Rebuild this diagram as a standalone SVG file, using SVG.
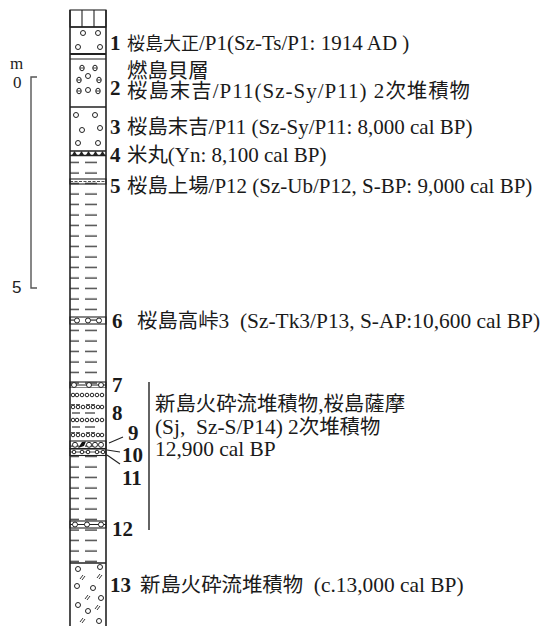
<svg xmlns="http://www.w3.org/2000/svg" width="551" height="626" viewBox="0 0 551 626">
  <style>
    .lbl { font-family: "Liberation Serif", "Noto Sans CJK JP", serif; font-size: 21px; fill: #1a1a1a; white-space: pre; }
    .lbl2 { font-family: "Liberation Serif", "Noto Sans CJK JP", serif; font-size: 21.4px; fill: #1a1a1a; white-space: pre; }
    .jp { font-size: 20.4px; }
    .jps { font-size: 18px; }
    .num { font-family: "Liberation Serif", serif; font-size: 21px; font-weight: bold; fill: #1a1a1a; }
    .scl { font-family: "Liberation Serif", serif; font-size: 17px; fill: #222; }
    .edge { stroke: #222; stroke-width: 1.6; fill: none; }
    .thin { stroke: #222; stroke-width: 1.1; fill: none; }
    .pb { stroke: #222; stroke-width: 1; fill: #fff; }
    .bar { stroke: #555; stroke-width: 1.4; fill: none; }
  </style>
  <defs>
    <!-- mud / silt dashes -->
    <pattern id="mud" patternUnits="userSpaceOnUse" x="70" y="0" width="36" height="10.5">
      <line x1="0" y1="5" x2="9" y2="5" stroke="#222" stroke-width="1.2"/>
      <line x1="15" y1="5" x2="27" y2="5" stroke="#222" stroke-width="1.2"/>
    </pattern>
    <circle id="c" r="2.5" class="pb"/>
    <circle id="s" r="1.8" class="pb"/>
    <g id="theta"><ellipse rx="2.2" ry="2.8" class="pb"/><line x1="-2.2" y1="0" x2="2.2" y2="0" stroke="#222" stroke-width="0.8"/></g>
    <g id="sigma"><circle r="1.8" class="pb"/><line x1="-2" y1="-2.3" x2="2" y2="-2.3" stroke="#222" stroke-width="0.9"/></g>
    <g id="slash"><line x1="-2" y1="2" x2="1" y2="-2" stroke="#222" stroke-width="0.9"/><line x1="0" y1="3" x2="3" y2="-1" stroke="#222" stroke-width="0.9"/></g>
  </defs>

  <!-- depth scale -->
  <g id="scale">
    <text class="scl" x="10" y="69">m</text>
    <text class="scl" x="13" y="88">0</text>
    <text x="12" y="293" style="font-family: 'Liberation Sans', sans-serif; font-size: 17px; fill:#222">5</text>
    <path class="bar" d="M37,77 H31 V288 H37"/>
  </g>

  <!-- lithologic column -->
  <g id="column">
    <!-- mud fills -->
    <rect x="70" y="155" width="36" height="408" fill="url(#mud)"/>

    <!-- top soil cells -->
    <g id="layer0">
      <rect x="70" y="10" width="36" height="17" class="thin"/>
      <line x1="82" y1="10" x2="82" y2="27" class="thin"/>
      <line x1="94" y1="10" x2="94" y2="27" class="thin"/>
    </g>

    <g id="layer1">
      <use href="#c" x="83" y="33"/><use href="#c" x="98" y="33"/>
      <use href="#c" x="78" y="47"/><use href="#c" x="100" y="47"/>
      <rect x="70" y="53" width="36" height="2" fill="#222"/>
      <line x1="70" y1="59" x2="106" y2="59" class="thin"/>
    </g>

    <g id="layer2">
      <use href="#theta" x="82" y="68"/><use href="#theta" x="95" y="68"/>
      <use href="#theta" x="79" y="80"/><use href="#c" x="88" y="76"/><use href="#theta" x="99" y="80"/>
      <use href="#theta" x="79" y="91"/><use href="#c" x="88" y="90"/><use href="#theta" x="98" y="91"/>
      <line x1="70" y1="107" x2="106" y2="107" class="edge"/>
    </g>

    <g id="layer3">
      <use href="#c" x="76" y="115"/><use href="#c" x="95" y="115"/>
      <use href="#c" x="82" y="130"/><use href="#c" x="100" y="128"/>
      <use href="#c" x="78" y="143"/><use href="#c" x="98" y="143"/>
    </g>

    <g id="layer4">
      <line x1="70" y1="151" x2="106" y2="151" class="edge"/>
      <path d="M72,155 l2.5,-4 l2.5,4 z M79,155 l2.5,-4 l2.5,4 z M86,155 l2.5,-4 l2.5,4 z M93,155 l2.5,-4 l2.5,4 z M100,155 l2.5,-4 l2.5,4 z" fill="#222"/>
      <line x1="70" y1="155.5" x2="106" y2="155.5" class="edge"/>
    </g>

    <g id="layer5">
      <rect x="70" y="179" width="36" height="5" fill="#fff" class="thin"/>
      <line x1="70" y1="181.5" x2="106" y2="181.5" stroke="#222" stroke-width="0.8" stroke-dasharray="3 1.5"/>
    </g>

    <g id="layer6">
      <rect x="70" y="317" width="36" height="7" fill="#fff" class="thin"/>
      <use href="#c" x="77" y="320.5"/><use href="#c" x="88" y="320.5"/><use href="#c" x="99" y="320.5"/>
    </g>

    <g id="layer7">
      <rect x="70" y="382" width="36" height="6" fill="#fff" class="thin"/>
      <line x1="70" y1="385" x2="106" y2="385" class="thin"/>
      <use href="#c" x="74" y="385"/><use href="#c" x="89" y="385"/><use href="#c" x="101" y="385"/>
    </g>

    <g id="layer8">
      <rect x="70" y="388" width="36" height="53" fill="#fff"/>
      <g>
        <use href="#s" x="73" y="395"/><use href="#s" x="77" y="395"/><use href="#s" x="82" y="395"/><use href="#s" x="87" y="395"/><use href="#s" x="92" y="395"/><use href="#s" x="97" y="395"/><use href="#s" x="102" y="395"/>
        <use href="#sigma" x="73" y="407"/><use href="#sigma" x="78" y="407"/><use href="#s" x="83" y="407"/><use href="#sigma" x="88" y="407"/><use href="#sigma" x="93" y="407"/><use href="#s" x="98" y="407"/><use href="#s" x="102" y="407"/>
        <line x1="72" y1="413" x2="80" y2="413" stroke="#222" stroke-width="1.1"/><line x1="85" y1="413" x2="95" y2="413" stroke="#222" stroke-width="1.1"/>
        <use href="#s" x="73" y="420"/><use href="#s" x="77" y="420"/><use href="#s" x="82" y="420"/><use href="#s" x="87" y="420"/><use href="#s" x="92" y="420"/><use href="#s" x="97" y="420"/><use href="#s" x="102" y="420"/>
        <line x1="72" y1="427" x2="80" y2="427" stroke="#222" stroke-width="1.1"/><line x1="85" y1="427" x2="95" y2="427" stroke="#222" stroke-width="1.1"/>
        <use href="#sigma" x="73" y="435"/><use href="#sigma" x="78" y="435"/><use href="#s" x="83" y="435"/><use href="#sigma" x="88" y="435"/><use href="#sigma" x="93" y="435"/><use href="#s" x="98" y="435"/><use href="#s" x="102" y="435"/>
      </g>
    </g>

    <g id="layer9-10">
      <rect x="70" y="441" width="36" height="7.5" fill="#fff" class="thin"/>
      <use href="#c" x="75" y="444.8"/><use href="#c" x="89" y="444.8"/><use href="#c" x="95" y="444.8"/><use href="#c" x="101" y="444.8"/>
      <path d="M78,448 L82,442 L86,441.5 L84,446 Z" fill="#111"/>
    </g>

    <g id="layer11">
      <rect x="70" y="449" width="36" height="6.5" fill="#fff" class="thin"/>
      <line x1="70" y1="452" x2="106" y2="452" stroke="#222" stroke-width="0.8"/>
      <use href="#s" x="74" y="452"/><use href="#s" x="82" y="452"/><use href="#s" x="88" y="452"/><use href="#s" x="97" y="452"/><use href="#s" x="103" y="452"/>
    </g>

    <g id="layer12">
      <rect x="70" y="521" width="36" height="7" fill="#fff" class="thin"/>
      <line x1="70" y1="524.5" x2="106" y2="524.5" class="thin"/>
      <use href="#c" x="75" y="524.5"/><use href="#c" x="87" y="524.5"/><use href="#c" x="101" y="524.5"/>
    </g>

    <g id="layer13">
      <line x1="70" y1="563" x2="106" y2="563" class="edge"/>
      <use href="#c" x="78" y="569"/><use href="#c" x="100" y="567"/>
      <use href="#slash" x="82" y="577"/><use href="#slash" x="99" y="576"/>
      <use href="#c" x="77" y="586"/><use href="#c" x="93" y="588"/>
      <use href="#slash" x="87" y="597"/><use href="#c" x="101" y="598"/>
      <use href="#c" x="78" y="605"/><use href="#c" x="88" y="611"/><use href="#slash" x="97" y="607"/>
      <use href="#slash" x="82" y="620"/><use href="#c" x="99" y="621"/>
    </g>

    <!-- column outline -->
    <line x1="70" y1="10" x2="70" y2="626" class="edge"/>
    <line x1="106" y1="10" x2="106" y2="626" class="edge"/>
    <line x1="70" y1="27" x2="106" y2="27" class="edge"/>
  </g>

  <!-- leaders and bracket -->
  <g id="connectors">
    <line x1="109" y1="443" x2="123" y2="437" class="thin"/>
    <line x1="107" y1="450" x2="120" y2="452" class="thin"/>
    <line x1="107" y1="455" x2="120" y2="464" class="thin"/>
    <line x1="149" y1="382" x2="149" y2="530" stroke="#222" stroke-width="1.4"/>
  </g>

  <!-- labels -->
  <g id="label1"><text class="num" x="110" y="50">1</text><text class="lbl" x="127" y="50"><tspan class="jps">桜島大正</tspan>/P1(Sz-Ts/P1: 1914 AD )</text></g>
  <g id="label2"><text class="num" x="110" y="95">2</text><text class="lbl" x="127" y="78"><tspan class="jp">燃島貝層</tspan></text><text class="lbl" x="127" y="98" textLength="343" lengthAdjust="spacing"><tspan class="jp">桜島末吉</tspan>/P11(Sz-Sy/P11) 2<tspan class="jp">次堆積物</tspan></text></g>
  <g id="label3"><text class="num" x="110" y="134">3</text><text class="lbl" x="127" y="134"><tspan class="jp">桜島末吉</tspan>/P11 (Sz-Sy/P11: 8,000 cal BP)</text></g>
  <g id="label4"><text class="num" x="110" y="162">4</text><text class="lbl" x="127" y="162"><tspan class="jp">米丸</tspan>(Yn: 8,100 cal BP)</text></g>
  <g id="label5"><text class="num" x="110" y="193">5</text><text class="lbl" x="127" y="193"><tspan class="jp">桜島上場</tspan>/P12 (Sz-Ub/P12, S-BP: 9,000 cal BP)</text></g>
  <g id="label6"><text class="num" x="112" y="328">6</text><text class="lbl2" x="137" y="328"><tspan class="jp">桜島高峠</tspan>3  (Sz-Tk3/P13, S-AP:10,600 cal BP)</text></g>
  <g id="label7"><text class="num" x="112" y="392">7</text></g>
  <g id="label8"><text class="num" x="112" y="420">8</text></g>
  <g id="label9"><text class="num" x="128" y="440">9</text></g>
  <g id="label10"><text class="num" x="122" y="462">10</text></g>
  <g id="label11"><text class="num" x="122" y="485">11</text></g>
  <g id="label12"><text class="num" x="112" y="536">12</text></g>
  <g id="label13"><text class="num" x="110" y="592">13</text><text class="lbl2" x="140" y="592"><tspan class="jp">新島火砕流堆積物</tspan>  (c.13,000 cal BP)</text></g>
  <g id="labelSj">
    <text class="lbl2" x="155" y="411"><tspan class="jp">新島火砕流堆積物</tspan>,<tspan class="jp">桜島薩摩</tspan></text>
    <text class="lbl2" x="155" y="434">(Sj,  Sz-S/P14) 2<tspan class="jp">次堆積物</tspan></text>
    <text class="lbl2" x="155" y="456">12,900 cal BP</text>
  </g>
</svg>
